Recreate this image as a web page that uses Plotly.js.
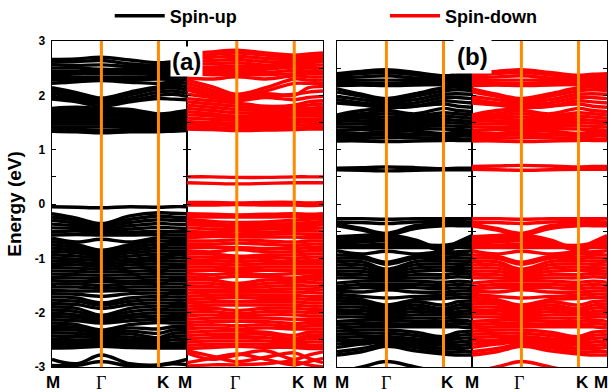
<!DOCTYPE html>
<html><head><meta charset="utf-8">
<script src="https://cdn.plot.ly/plotly-3.0.1.min.js"></script>
<style>html,body{margin:0;padding:0;background:#fff}#chart{width:611px;height:392px}</style>
</head><body><div id="chart"></div>
<script>
// k-path M - Gamma - K - M (hexagonal, |GK| = 1)
const kPath = [0, 0.433, 0.866, 1.366, 1.866, 2.116, 2.366];
const kSym = [0.866, 1.866];               // Gamma, K (orange lines)
const kLabelVals = [0, 0.866, 1.866, 2.366];
const kLabelText = ['M', 'Γ', 'K', 'M'];
const yTickVals = [-3, -2, -1, 0, 1, 2, 3];
const yTickText = ['-3', '-2', '-1', '0', '1', '2', '3'];
const yMinorVals = [-2.5, -1.5, -0.5, 0.5, 1.5, 2.5];
const seriesNames = ['Spin-up', 'Spin-down'];

// (a) spin-up conduction bands (eV at kPath)
const upA_cond = [
 [2.66, 2.67, 2.70, 2.65, 2.60, 2.62, 2.64],
 [2.61, 2.62, 2.64, 2.58, 2.55, 2.58, 2.60],
 [2.56, 2.55, 2.56, 2.53, 2.52, 2.53, 2.55],
 [2.50, 2.50, 2.48, 2.48, 2.48, 2.48, 2.50],
 [2.44, 2.44, 2.44, 2.44, 2.44, 2.44, 2.44],
 [2.38, 2.39, 2.40, 2.39, 2.40, 2.39, 2.38],
 [2.33, 2.33, 2.34, 2.33, 2.35, 2.34, 2.33],
 [2.28, 2.29, 2.30, 2.29, 2.30, 2.29, 2.28],
 [2.22, 2.25, 2.27, 2.24, 2.22, 2.24, 2.22],
 [2.14, 2.05, 1.95, 2.06, 2.16, 2.19, 2.16],
 [2.09, 2.01, 1.92, 2.01, 2.12, 2.14, 2.10],
 [2.04, 1.96, 1.89, 1.95, 2.06, 2.08, 2.04],
 [1.98, 1.92, 1.85, 1.90, 2.00, 2.02, 1.98],
 [1.93, 1.88, 1.80, 1.88, 1.94, 1.93, 1.92],
 [1.76, 1.78, 1.76, 1.74, 1.66, 1.68, 1.72],
 [1.72, 1.72, 1.72, 1.70, 1.63, 1.65, 1.68],
 [1.67, 1.67, 1.67, 1.66, 1.60, 1.62, 1.64],
 [1.62, 1.62, 1.62, 1.61, 1.57, 1.58, 1.60],
 [1.57, 1.57, 1.57, 1.56, 1.53, 1.54, 1.56],
 [1.52, 1.52, 1.52, 1.51, 1.49, 1.50, 1.52],
 [1.47, 1.47, 1.47, 1.46, 1.45, 1.46, 1.48],
 [1.42, 1.42, 1.42, 1.42, 1.41, 1.42, 1.44],
 [1.38, 1.37, 1.36, 1.37, 1.37, 1.38, 1.39],
 [1.34, 1.33, 1.31, 1.33, 1.33, 1.34, 1.35]
];
// (a) spin-up valence bands
const upA_val = [
 [-0.05, -0.06, -0.07, -0.05, -0.06, -0.05, -0.05],
 [-0.18, -0.26, -0.36, -0.22, -0.16, -0.17, -0.18],
 [-0.24, -0.30, -0.38, -0.28, -0.22, -0.24, -0.25],
 [-0.30, -0.35, -0.40, -0.34, -0.29, -0.30, -0.31],
 [-0.37, -0.40, -0.44, -0.40, -0.36, -0.37, -0.38],
 [-0.44, -0.45, -0.48, -0.46, -0.43, -0.44, -0.45],
 [-0.51, -0.50, -0.52, -0.52, -0.50, -0.51, -0.51],
 [-0.57, -0.56, -0.57, -0.57, -0.56, -0.57, -0.57],
 [-0.63, -0.70, -0.65, -0.70, -0.62, -0.63, -0.63],
 [-0.69, -0.75, -0.85, -0.75, -0.68, -0.69, -0.69],
 [-0.75, -0.80, -0.88, -0.80, -0.74, -0.75, -0.75],
 [-0.81, -0.85, -0.92, -0.85, -0.80, -0.81, -0.81],
 [-0.87, -0.90, -0.96, -0.90, -0.86, -0.87, -0.87],
 [-0.93, -0.96, -1.00, -0.96, -0.92, -0.93, -0.93],
 [-0.99, -1.02, -1.04, -1.02, -0.98, -0.99, -0.99],
 [-1.05, -1.07, -1.10, -1.07, -1.04, -1.05, -1.05],
 [-1.11, -1.12, -1.15, -1.12, -1.10, -1.11, -1.11],
 [-1.17, -1.18, -1.20, -1.18, -1.16, -1.17, -1.17],
 [-1.23, -1.24, -1.25, -1.24, -1.22, -1.23, -1.23],
 [-1.29, -1.30, -1.31, -1.30, -1.28, -1.29, -1.29],
 [-1.35, -1.36, -1.37, -1.36, -1.34, -1.35, -1.35],
 [-1.41, -1.42, -1.43, -1.42, -1.40, -1.41, -1.41],
 [-1.47, -1.47, -1.50, -1.47, -1.46, -1.47, -1.47],
 [-1.53, -1.53, -1.55, -1.53, -1.52, -1.53, -1.53],
 [-1.59, -1.60, -1.60, -1.59, -1.58, -1.59, -1.59],
 [-1.65, -1.66, -1.70, -1.65, -1.64, -1.65, -1.65],
 [-1.71, -1.73, -1.82, -1.73, -1.70, -1.71, -1.71],
 [-1.77, -1.79, -1.86, -1.79, -1.76, -1.77, -1.77],
 [-1.83, -1.85, -1.92, -1.85, -1.82, -1.83, -1.83],
 [-1.89, -1.92, -2.05, -1.92, -1.88, -1.89, -1.89],
 [-1.95, -1.98, -2.09, -1.98, -1.94, -1.95, -1.95],
 [-2.01, -2.04, -2.13, -2.04, -2.00, -2.01, -2.01],
 [-2.07, -2.09, -2.16, -2.09, -2.06, -2.07, -2.07],
 [-2.13, -2.15, -2.19, -2.15, -2.12, -2.13, -2.13],
 [-2.19, -2.22, -2.32, -2.22, -2.18, -2.19, -2.19],
 [-2.25, -2.27, -2.35, -2.28, -2.30, -2.26, -2.25],
 [-2.31, -2.32, -2.38, -2.34, -2.38, -2.32, -2.31],
 [-2.37, -2.38, -2.42, -2.39, -2.46, -2.38, -2.37],
 [-2.43, -2.44, -2.46, -2.45, -2.50, -2.44, -2.43],
 [-2.49, -2.50, -2.51, -2.50, -2.54, -2.50, -2.49],
 [-2.55, -2.55, -2.56, -2.55, -2.58, -2.56, -2.55],
 [-2.61, -2.60, -2.60, -2.60, -2.62, -2.61, -2.61],
 [-2.65, -2.64, -2.62, -2.64, -2.65, -2.65, -2.65],
 [-2.86, -2.94, -2.78, -2.94, -2.96, -2.92, -2.86],
 [-2.97, -2.97, -2.90, -2.98, -2.97, -2.94, -2.96]
];
// (a) spin-down conduction bands (incl. two in-gap bands)
const dnA_cond = [
 [2.76, 2.80, 2.83, 2.78, 2.74, 2.76, 2.78],
 [2.72, 2.75, 2.78, 2.74, 2.70, 2.72, 2.74],
 [2.68, 2.70, 2.72, 2.68, 2.66, 2.68, 2.70],
 [2.62, 2.64, 2.66, 2.62, 2.62, 2.64, 2.66],
 [2.58, 2.58, 2.60, 2.56, 2.60, 2.60, 2.62],
 [2.52, 2.52, 2.54, 2.52, 2.56, 2.55, 2.56],
 [2.48, 2.48, 2.48, 2.48, 2.52, 2.50, 2.50],
 [2.44, 2.42, 2.42, 2.42, 2.46, 2.45, 2.44],
 [2.40, 2.38, 2.38, 2.38, 2.40, 2.40, 2.40],
 [2.32, 2.30, 2.34, 2.30, 2.36, 2.34, 2.34],
 [2.28, 2.16, 2.02, 2.14, 2.30, 2.28, 2.28],
 [2.22, 2.10, 1.98, 2.08, 2.22, 2.22, 2.22],
 [2.16, 2.05, 1.96, 2.03, 2.00, 2.14, 2.16],
 [2.10, 2.00, 1.92, 1.98, 2.02, 2.06, 2.08],
 [2.02, 1.96, 1.90, 1.96, 1.92, 1.96, 1.98],
 [1.94, 1.90, 1.86, 1.80, 1.82, 1.88, 1.90],
 [1.88, 1.84, 1.80, 1.76, 1.78, 1.82, 1.84],
 [1.82, 1.78, 1.74, 1.72, 1.74, 1.76, 1.78],
 [1.76, 1.72, 1.68, 1.68, 1.70, 1.72, 1.72],
 [1.70, 1.66, 1.62, 1.64, 1.66, 1.66, 1.66],
 [1.64, 1.62, 1.58, 1.60, 1.62, 1.62, 1.62],
 [1.58, 1.56, 1.54, 1.55, 1.56, 1.56, 1.57],
 [1.52, 1.50, 1.49, 1.50, 1.50, 1.51, 1.52],
 [1.47, 1.46, 1.44, 1.45, 1.45, 1.46, 1.47],
 [1.42, 1.41, 1.39, 1.40, 1.40, 1.41, 1.42],
 [1.38, 1.37, 1.35, 1.36, 1.37, 1.38, 1.38],
 [0.50, 0.50, 0.49, 0.49, 0.50, 0.50, 0.50],
 [0.39, 0.38, 0.37, 0.38, 0.39, 0.39, 0.39]
];
// (a) spin-down valence bands
const dnA_val = [
 [0.03, 0.03, 0.02, 0.03, 0.03, 0.02, 0.03],
 [-0.02, -0.02, -0.01, -0.02, -0.02, -0.03, -0.02],
 [-0.18, -0.19, -0.20, -0.19, -0.18, -0.19, -0.18],
 [-0.23, -0.24, -0.24, -0.24, -0.23, -0.24, -0.23],
 [-0.28, -0.32, -0.34, -0.33, -0.30, -0.28, -0.28],
 [-0.33, -0.36, -0.40, -0.38, -0.36, -0.34, -0.33],
 [-0.38, -0.40, -0.42, -0.42, -0.40, -0.40, -0.38],
 [-0.44, -0.46, -0.47, -0.46, -0.45, -0.45, -0.44],
 [-0.50, -0.52, -0.50, -0.52, -0.50, -0.50, -0.50],
 [-0.56, -0.56, -0.56, -0.56, -0.55, -0.56, -0.56],
 [-0.62, -0.60, -0.60, -0.61, -0.61, -0.62, -0.62],
 [-0.68, -0.68, -0.66, -0.68, -0.70, -0.68, -0.68],
 [-0.74, -0.74, -0.72, -0.74, -0.76, -0.74, -0.74],
 [-0.80, -0.80, -0.80, -0.82, -0.82, -0.80, -0.80],
 [-0.86, -0.88, -0.84, -0.88, -0.88, -0.86, -0.86],
 [-0.92, -0.92, -0.96, -0.94, -0.94, -0.92, -0.92],
 [-0.98, -0.98, -1.00, -0.98, -1.00, -0.98, -0.98],
 [-1.04, -1.04, -1.06, -1.04, -1.06, -1.04, -1.04],
 [-1.10, -1.10, -1.12, -1.10, -1.10, -1.10, -1.10],
 [-1.16, -1.16, -1.18, -1.16, -1.16, -1.16, -1.16],
 [-1.22, -1.22, -1.22, -1.22, -1.22, -1.22, -1.22],
 [-1.28, -1.30, -1.27, -1.30, -1.28, -1.27, -1.28],
 [-1.34, -1.36, -1.33, -1.34, -1.36, -1.33, -1.34],
 [-1.40, -1.40, -1.46, -1.40, -1.40, -1.38, -1.40],
 [-1.46, -1.46, -1.50, -1.46, -1.44, -1.44, -1.46],
 [-1.52, -1.52, -1.54, -1.52, -1.50, -1.51, -1.52],
 [-1.58, -1.58, -1.58, -1.58, -1.56, -1.57, -1.58],
 [-1.64, -1.62, -1.62, -1.62, -1.62, -1.63, -1.64],
 [-1.70, -1.68, -1.67, -1.68, -1.68, -1.70, -1.70],
 [-1.76, -1.74, -1.72, -1.74, -1.74, -1.76, -1.76],
 [-1.82, -1.80, -1.80, -1.80, -1.80, -1.82, -1.82],
 [-1.88, -1.86, -1.86, -1.86, -1.86, -1.88, -1.88],
 [-1.94, -1.92, -1.96, -1.92, -1.92, -1.94, -1.94],
 [-2.00, -1.98, -2.02, -1.98, -1.98, -2.00, -2.00],
 [-2.06, -2.04, -2.06, -2.04, -2.04, -2.06, -2.06],
 [-2.12, -2.10, -2.10, -2.10, -2.12, -2.12, -2.12],
 [-2.18, -2.16, -2.16, -2.16, -2.20, -2.18, -2.18],
 [-2.24, -2.22, -2.24, -2.22, -2.26, -2.24, -2.24],
 [-2.30, -2.28, -2.30, -2.28, -2.30, -2.30, -2.30],
 [-2.36, -2.34, -2.34, -2.36, -2.42, -2.36, -2.36],
 [-2.42, -2.40, -2.40, -2.40, -2.48, -2.42, -2.42],
 [-2.48, -2.46, -2.46, -2.46, -2.52, -2.48, -2.48],
 [-2.54, -2.52, -2.52, -2.52, -2.56, -2.54, -2.54],
 [-2.60, -2.58, -2.58, -2.58, -2.60, -2.60, -2.60],
 [-2.66, -2.64, -2.62, -2.64, -2.64, -2.66, -2.66],
 [-2.70, -2.80, -2.90, -2.82, -2.74, -2.84, -2.92],
 [-2.74, -2.86, -2.78, -2.70, -2.86, -2.78, -2.72],
 [-2.92, -2.84, -2.76, -2.86, -2.96, -2.90, -2.84],
 [-2.98, -2.96, -2.96, -2.94, -2.90, -2.96, -3.00]
];
// (b) spin-up conduction bands (incl. in-gap pair)
const upB_cond = [
 [2.40, 2.44, 2.47, 2.42, 2.36, 2.38, 2.40],
 [2.36, 2.40, 2.42, 2.38, 2.32, 2.34, 2.36],
 [2.32, 2.34, 2.36, 2.32, 2.30, 2.31, 2.32],
 [2.28, 2.28, 2.28, 2.28, 2.27, 2.28, 2.28],
 [2.24, 2.23, 2.22, 2.24, 2.24, 2.24, 2.24],
 [2.18, 2.19, 2.18, 2.19, 2.20, 2.20, 2.19],
 [2.12, 2.02, 1.94, 2.03, 2.14, 2.15, 2.14],
 [2.06, 1.98, 1.90, 1.98, 2.08, 2.10, 2.09],
 [1.98, 1.92, 1.86, 1.92, 2.02, 2.03, 2.02],
 [1.92, 1.86, 1.82, 1.86, 1.96, 1.96, 1.94],
 [1.86, 1.82, 1.78, 1.80, 1.90, 1.88, 1.86],
 [1.64, 1.72, 1.76, 1.80, 1.84, 1.80, 1.78],
 [1.62, 1.66, 1.72, 1.66, 1.76, 1.72, 1.70],
 [1.60, 1.62, 1.66, 1.62, 1.68, 1.66, 1.64],
 [1.56, 1.58, 1.60, 1.58, 1.62, 1.60, 1.58],
 [1.52, 1.53, 1.54, 1.54, 1.56, 1.54, 1.53],
 [1.47, 1.48, 1.48, 1.49, 1.50, 1.49, 1.48],
 [1.42, 1.42, 1.43, 1.44, 1.44, 1.43, 1.42],
 [1.36, 1.37, 1.38, 1.39, 1.38, 1.37, 1.36],
 [1.32, 1.30, 1.33, 1.34, 1.30, 1.32, 1.31],
 [1.26, 1.26, 1.28, 1.28, 1.26, 1.26, 1.26],
 [1.20, 1.21, 1.22, 1.22, 1.21, 1.20, 1.20],
 [1.16, 1.16, 1.15, 1.16, 1.17, 1.17, 1.17],
 [0.66, 0.67, 0.68, 0.67, 0.65, 0.66, 0.66],
 [0.63, 0.62, 0.61, 0.62, 0.63, 0.63, 0.63]
];
// (b) spin-up valence bands
const upB_val = [
 [-0.27, -0.27, -0.28, -0.27, -0.27, -0.27, -0.27],
 [-0.33, -0.34, -0.36, -0.33, -0.32, -0.32, -0.33],
 [-0.37, -0.45, -0.54, -0.40, -0.36, -0.36, -0.36],
 [-0.40, -0.48, -0.57, -0.45, -0.40, -0.40, -0.40],
 [-0.60, -0.58, -0.56, -0.66, -0.82, -0.70, -0.58],
 [-0.64, -0.62, -0.60, -0.70, -0.84, -0.74, -0.62],
 [-0.68, -0.66, -0.64, -0.72, -0.86, -0.78, -0.66],
 [-0.72, -0.70, -0.68, -0.74, -0.76, -0.72, -0.70],
 [-0.76, -0.76, -0.74, -0.77, -0.78, -0.76, -0.75],
 [-0.80, -0.80, -0.80, -0.80, -0.80, -0.80, -0.80],
 [-0.86, -0.92, -0.87, -0.92, -0.88, -0.88, -0.86],
 [-0.94, -0.96, -1.07, -0.96, -0.92, -0.93, -0.94],
 [-1.00, -1.00, -1.11, -1.00, -0.98, -0.99, -1.00],
 [-1.06, -1.06, -1.20, -1.06, -1.04, -1.05, -1.06],
 [-1.12, -1.12, -1.22, -1.12, -1.10, -1.11, -1.12],
 [-1.18, -1.18, -1.26, -1.18, -1.16, -1.17, -1.18],
 [-1.24, -1.24, -1.30, -1.24, -1.22, -1.22, -1.24],
 [-1.30, -1.30, -1.34, -1.30, -1.30, -1.28, -1.30],
 [-1.36, -1.36, -1.38, -1.36, -1.36, -1.34, -1.36],
 [-1.46, -1.42, -1.42, -1.42, -1.44, -1.42, -1.44],
 [-1.52, -1.48, -1.48, -1.48, -1.50, -1.48, -1.50],
 [-1.56, -1.54, -1.54, -1.54, -1.56, -1.54, -1.56],
 [-1.60, -1.62, -1.58, -1.62, -1.62, -1.60, -1.60],
 [-1.66, -1.70, -1.73, -1.70, -1.68, -1.66, -1.66],
 [-1.72, -1.76, -1.86, -1.76, -1.74, -1.72, -1.72],
 [-1.78, -1.80, -1.90, -1.80, -1.86, -1.80, -1.78],
 [-1.84, -1.84, -1.94, -1.86, -1.92, -1.86, -1.84],
 [-1.90, -1.90, -1.98, -1.92, -1.96, -1.92, -1.90],
 [-1.96, -1.96, -2.02, -1.98, -2.00, -1.98, -1.96],
 [-2.02, -2.02, -2.06, -2.04, -2.04, -2.03, -2.02],
 [-2.08, -2.08, -2.10, -2.10, -2.10, -2.08, -2.08],
 [-2.16, -2.14, -2.14, -2.16, -2.16, -2.14, -2.16],
 [-2.22, -2.20, -2.20, -2.22, -2.22, -2.20, -2.22],
 [-2.28, -2.26, -2.26, -2.26, -2.26, -2.26, -2.28],
 [-2.34, -2.32, -2.32, -2.36, -2.44, -2.36, -2.34],
 [-2.40, -2.38, -2.38, -2.42, -2.48, -2.42, -2.40],
 [-2.46, -2.44, -2.44, -2.48, -2.52, -2.48, -2.46],
 [-2.52, -2.50, -2.48, -2.52, -2.56, -2.54, -2.52],
 [-2.58, -2.54, -2.52, -2.56, -2.60, -2.60, -2.58],
 [-2.64, -2.58, -2.54, -2.60, -2.66, -2.66, -2.64],
 [-2.72, -2.66, -2.58, -2.64, -2.72, -2.72, -2.72],
 [-2.78, -2.72, -2.62, -2.70, -2.76, -2.78, -2.78],
 [-3.10, -3.00, -2.90, -3.00, -3.10, -3.12, -3.10]
];
// (b) spin-down conduction bands (incl. in-gap pair)
const dnB_cond = [
 [2.40, 2.44, 2.47, 2.42, 2.37, 2.39, 2.40],
 [2.36, 2.40, 2.42, 2.38, 2.33, 2.35, 2.36],
 [2.32, 2.34, 2.36, 2.32, 2.30, 2.31, 2.32],
 [2.28, 2.28, 2.28, 2.28, 2.27, 2.28, 2.28],
 [2.24, 2.23, 2.22, 2.24, 2.24, 2.24, 2.24],
 [2.18, 2.19, 2.18, 2.19, 2.20, 2.20, 2.19],
 [2.12, 2.02, 1.94, 2.03, 2.14, 2.15, 2.14],
 [2.06, 1.98, 1.90, 1.98, 2.08, 2.10, 2.09],
 [1.98, 1.92, 1.86, 1.92, 2.02, 2.03, 2.02],
 [1.92, 1.86, 1.82, 1.86, 1.96, 1.96, 1.94],
 [1.86, 1.82, 1.78, 1.80, 1.90, 1.88, 1.86],
 [1.64, 1.72, 1.76, 1.80, 1.84, 1.80, 1.78],
 [1.62, 1.66, 1.72, 1.66, 1.76, 1.72, 1.70],
 [1.60, 1.62, 1.66, 1.62, 1.68, 1.66, 1.64],
 [1.56, 1.58, 1.60, 1.58, 1.62, 1.60, 1.58],
 [1.52, 1.53, 1.54, 1.54, 1.56, 1.54, 1.53],
 [1.47, 1.48, 1.48, 1.49, 1.50, 1.49, 1.48],
 [1.42, 1.42, 1.43, 1.44, 1.44, 1.43, 1.42],
 [1.36, 1.37, 1.38, 1.39, 1.38, 1.37, 1.36],
 [1.32, 1.30, 1.33, 1.34, 1.30, 1.32, 1.31],
 [1.26, 1.26, 1.28, 1.28, 1.26, 1.26, 1.26],
 [1.20, 1.21, 1.22, 1.22, 1.21, 1.20, 1.20],
 [1.16, 1.16, 1.15, 1.16, 1.17, 1.17, 1.17],
 [0.69, 0.70, 0.71, 0.70, 0.68, 0.69, 0.69],
 [0.64, 0.63, 0.62, 0.63, 0.64, 0.64, 0.64]
];
// (b) spin-down valence bands
const dnB_val = [
 [-0.27, -0.27, -0.28, -0.27, -0.27, -0.27, -0.27],
 [-0.33, -0.34, -0.36, -0.33, -0.32, -0.32, -0.33],
 [-0.37, -0.45, -0.54, -0.40, -0.36, -0.36, -0.36],
 [-0.40, -0.48, -0.57, -0.45, -0.40, -0.40, -0.40],
 [-0.60, -0.58, -0.56, -0.66, -0.82, -0.70, -0.58],
 [-0.64, -0.62, -0.60, -0.70, -0.84, -0.74, -0.62],
 [-0.68, -0.66, -0.64, -0.72, -0.86, -0.78, -0.66],
 [-0.72, -0.70, -0.68, -0.74, -0.76, -0.72, -0.70],
 [-0.76, -0.76, -0.74, -0.77, -0.78, -0.76, -0.75],
 [-0.80, -0.80, -0.80, -0.80, -0.80, -0.80, -0.80],
 [-0.86, -0.92, -0.87, -0.92, -0.88, -0.88, -0.86],
 [-0.94, -0.96, -1.07, -0.96, -0.92, -0.93, -0.94],
 [-1.00, -1.00, -1.11, -1.00, -0.98, -0.99, -1.00],
 [-1.06, -1.06, -1.20, -1.06, -1.04, -1.05, -1.06],
 [-1.12, -1.12, -1.22, -1.12, -1.10, -1.11, -1.12],
 [-1.18, -1.18, -1.26, -1.18, -1.16, -1.17, -1.18],
 [-1.24, -1.24, -1.30, -1.24, -1.22, -1.22, -1.24],
 [-1.30, -1.30, -1.34, -1.30, -1.30, -1.28, -1.30],
 [-1.36, -1.36, -1.38, -1.36, -1.36, -1.34, -1.36],
 [-1.46, -1.42, -1.42, -1.42, -1.44, -1.42, -1.44],
 [-1.52, -1.48, -1.48, -1.48, -1.50, -1.48, -1.50],
 [-1.56, -1.54, -1.54, -1.54, -1.56, -1.54, -1.56],
 [-1.60, -1.62, -1.58, -1.62, -1.62, -1.60, -1.60],
 [-1.66, -1.70, -1.73, -1.70, -1.68, -1.66, -1.66],
 [-1.72, -1.76, -1.86, -1.76, -1.74, -1.72, -1.72],
 [-1.78, -1.80, -1.90, -1.80, -1.86, -1.80, -1.78],
 [-1.84, -1.84, -1.94, -1.86, -1.92, -1.86, -1.84],
 [-1.90, -1.90, -1.98, -1.92, -1.96, -1.92, -1.90],
 [-1.96, -1.96, -2.02, -1.98, -2.00, -1.98, -1.96],
 [-2.02, -2.02, -2.06, -2.04, -2.04, -2.03, -2.02],
 [-2.08, -2.08, -2.10, -2.10, -2.10, -2.08, -2.08],
 [-2.16, -2.14, -2.14, -2.16, -2.16, -2.14, -2.16],
 [-2.22, -2.20, -2.20, -2.22, -2.22, -2.20, -2.22],
 [-2.28, -2.26, -2.26, -2.26, -2.26, -2.26, -2.28],
 [-2.34, -2.32, -2.32, -2.36, -2.44, -2.36, -2.34],
 [-2.40, -2.38, -2.38, -2.42, -2.48, -2.42, -2.40],
 [-2.46, -2.44, -2.44, -2.48, -2.52, -2.48, -2.46],
 [-2.52, -2.50, -2.48, -2.52, -2.56, -2.54, -2.52],
 [-2.58, -2.54, -2.52, -2.56, -2.60, -2.60, -2.58],
 [-2.64, -2.58, -2.54, -2.60, -2.66, -2.66, -2.64],
 [-2.72, -2.66, -2.58, -2.64, -2.72, -2.72, -2.72],
 [-2.78, -2.72, -2.62, -2.70, -2.76, -2.78, -2.78],
 [-3.10, -3.00, -2.90, -3.00, -3.10, -3.12, -3.10]
];

const SANS = 'Liberation Sans, Arial, sans-serif';
const SERIF = 'Liberation Serif, Times New Roman, serif';
const BLACK = '#000000', RED = '#ff0000', ORANGE = '#ff8c00';
const LW = 3.4;

const panels = [
  {bands: upA_cond.concat(upA_val), color: BLACK, ax: '', name: seriesNames[0], lg: 'legend'},
  {bands: dnA_cond.concat(dnA_val), color: RED,   ax: '2', name: seriesNames[1], lg: 'legend2'},
  {bands: upB_cond.concat(upB_val), color: BLACK, ax: '3', name: seriesNames[0], lg: 'legend'},
  {bands: dnB_cond.concat(dnB_val), color: RED,   ax: '4', name: seriesNames[1], lg: 'legend2'}
];
const traces = [];
panels.forEach((p, pi) => {
  p.bands.forEach((e, i) => {
    traces.push({
      type: 'scatter', mode: 'lines', x: kPath, y: e,
      xaxis: 'x' + p.ax, yaxis: 'y' + p.ax,
      line: {color: p.color, width: LW, shape: 'spline', smoothing: 1},
      name: p.name, legendgroup: p.name, legend: p.lg,
      showlegend: (i === 0 && pi < 2), hoverinfo: 'skip'
    });
  });
});

const legendStyle = (x) => ({orientation: 'h', x: x, xanchor: 'left', y: 1.02, yanchor: 'bottom',
  font: {family: SANS, size: 18, weight: 'bold', color: '#000'},
  itemwidth: 50, bgcolor: 'rgba(0,0,0,0)', borderwidth: 0});

const domains = [[0, 0.2432], [0.2432, 0.4883], [0.5135, 0.7568], [0.7568, 1]];
const layout = {
  width: 611, height: 392,
  margin: {l: 52, r: 4, t: 41, b: 25, autoexpand: false},
  paper_bgcolor: '#fff', plot_bgcolor: '#fff',
  showlegend: true,
  legend: legendStyle(0.104),
  legend2: legendStyle(0.600),
  annotations: [], shapes: []
};
const ax = ['', '2', '3', '4'];
ax.forEach((a, i) => {
  layout['xaxis' + a] = {domain: domains[i], range: [0, 2.366], anchor: 'y' + a,
    showline: true, linecolor: '#000', linewidth: 1.3, mirror: true,
    showgrid: false, zeroline: false, ticks: '', showticklabels: false, fixedrange: true};
  layout['yaxis' + a] = {range: [-3, 3], anchor: 'x' + a,
    showline: true, linecolor: '#000', linewidth: 1.3, mirror: 'ticks',
    showgrid: false, zeroline: false,
    tickmode: 'array', tickvals: yTickVals, ticktext: yTickText,
    ticks: 'inside', ticklen: 4, tickwidth: 1, tickcolor: '#000',
    minor: {tickvals: yMinorVals, ticks: 'inside', ticklen: 4, tickwidth: 1, tickcolor: '#000'},
    showticklabels: i === 0, ticklabelstandoff: 3,
    tickfont: {family: SANS, size: 12, weight: 'bold', color: '#000'},
    fixedrange: true};
  // high-symmetry lines
  kSym.forEach(k => layout.shapes.push({type: 'line', xref: 'x' + a, yref: 'paper',
    x0: k, x1: k, y0: 0, y1: 1, line: {color: ORANGE, width: 3}, layer: 'above'}));
});
layout.yaxis.title = {text: 'Energy (eV)', standoff: 8,
  font: {family: SANS, size: 19, weight: 'bold', color: '#000'}};

// k-point labels under each sub-panel
const labelShift = [[1, 0, 5, -2], [0, -2, 4, -3], [5, 0, 4, 0], [0, -2, 4, -6]];
ax.forEach((a, i) => {
  kLabelVals.forEach((k, j) => {
    if ((i === 1 || i === 3) && j === 0) return;   // shared M at the divider
    const isG = kLabelText[j] === 'Γ';
    layout.annotations.push({xref: 'x' + a, yref: 'paper', x: k, y: 0,
      xanchor: 'center', yanchor: 'top', yshift: -4, xshift: labelShift[i][j],
      text: kLabelText[j], showarrow: false,
      font: isG ? {family: SERIF, size: 18, color: '#000'}
                : {family: SANS, size: 17, weight: 'bold', color: '#000'}});
  });
});
// panel tags
layout.annotations.push({xref: 'x2', yref: 'y2', x: 0, y: 2.63, text: '(a)', showarrow: false,
  xanchor: 'center', yanchor: 'middle', bgcolor: '#fff', borderpad: 1,
  font: {family: SANS, size: 24, weight: 'bold', color: '#000'}});
layout.annotations.push({xref: 'x4', yref: 'y4', x: 0, y: 2.72, text: '(b)', showarrow: false,
  xanchor: 'center', yanchor: 'middle', bgcolor: '#fff', borderpad: 3,
  font: {family: SANS, size: 24, weight: 'bold', color: '#000'}});

Plotly.newPlot('chart', traces, layout, {displayModeBar: false, staticPlot: true});
</script>
</body></html>
